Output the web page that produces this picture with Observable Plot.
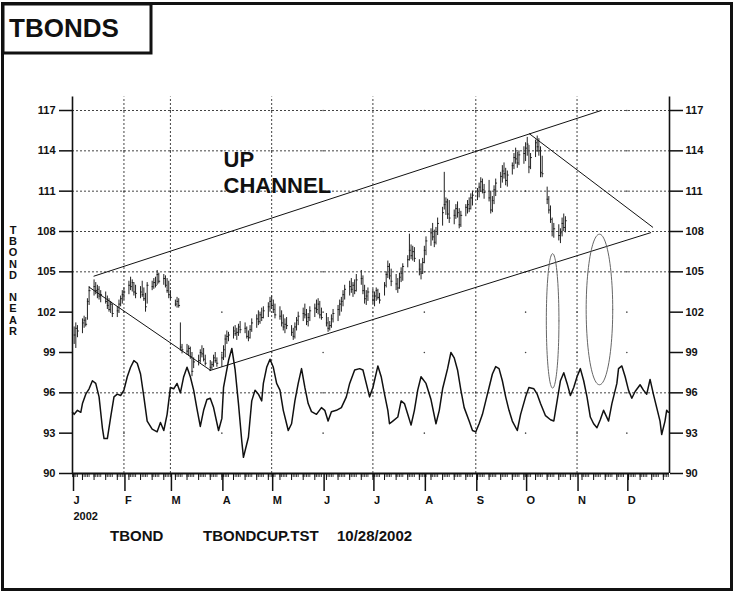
<!DOCTYPE html>
<html>
<head>
<meta charset="utf-8">
<script src="https://cdn.jsdelivr.net/npm/d3@7"></script>
<script src="https://cdn.jsdelivr.net/npm/@observablehq/plot@0.6"></script>
<style>
  html, body { margin: 0; padding: 0; background: #fff; }
  #wrap { position: relative; width: 736px; height: 592px; overflow: hidden; background: #fff;
          font-family: "Liberation Sans", Arial, Helvetica, sans-serif; }
  #wrap > svg { position: absolute; left: 0; top: 0; }
  #overlay { pointer-events: none; }
</style>
</head>
<body>
<div id="wrap"></div>
<script>
// ---------------- DATA ----------------
const monthLetters = ["J","F","M","A","M","J","J","A","S","O","N","D"];
const yTicks = [90, 93, 96, 99, 102, 105, 108, 111, 114, 117];
const gridValues = [96, 105, 108, 111, 114, 117];          // dotted horizontal lines visible
const gridMonths = [1, 2, 4, 6, 8, 10];                      // month index of dotted vertical lines
const barStart = "2002-01-02";                               // first trading day shown

// daily bars, one row per week (Mon..Fri)
const barHigh = [
  100.9,101.2,101.0,
  101.5,101.7,101.6,103.0,103.9,
  104.4,104.2,104.0,103.9,103.6,
  103.5,103.2,103.0,102.8,102.6,
  102.4,102.9,103.2,103.6,103.8,
  104.3,104.6,104.4,104.2,104.0,
  103.9,104.3,103.8,103.4,104.2,
  104.3,104.5,104.6,105.1,104.9,
  104.8,104.7,104.5,104.3,103.6,
  102.9,103.1,103.0,101.2,99.6,
  99.6,99.5,99.4,99.0,98.6,
  98.8,99.2,99.5,99.3,98.8,
  98.4,98.3,98.8,99.0,98.6,
  98.9,99.5,100.3,100.6,100.5,
  100.9,101.0,100.8,101.1,101.3,
  101.2,100.9,100.6,101.0,101.5,
  101.8,102.1,102.0,102.3,102.4,
  102.7,103.1,103.2,102.9,102.6,
  102.4,102.1,101.8,101.5,101.6,
  101.0,100.8,101.2,101.6,102.0,
  102.3,102.6,102.2,101.9,102.4,
  102.6,102.9,103.0,102.8,102.3,
  101.9,101.6,101.3,101.8,102.2,
  102.5,102.9,103.1,103.6,104.0,
  104.3,104.5,104.2,104.4,104.8,
  105.1,104.7,104.0,103.6,103.8,
  103.7,103.5,103.8,103.7,103.4,
  104.2,105.0,105.8,105.6,105.2,
  104.8,104.5,104.9,105.3,105.6,
  106.2,107.8,107.0,106.9,106.8,
  105.9,105.6,106.0,106.9,107.6,
  108.2,108.6,108.1,108.3,109.0,
  109.8,112.4,110.5,110.4,110.3,
  109.6,110.0,110.2,109.7,109.5,
  110.0,110.3,110.5,110.8,111.0,
  111.2,111.6,112.0,111.9,111.5,
  111.8,111.0,110.6,111.4,111.9,
  112.4,112.9,113.1,112.7,112.5,
  113.1,113.8,114.2,113.9,114.0,
  114.3,114.6,115.0,114.4,113.8,
  114.8,115.1,114.9,114.3,113.6,
  111.3,110.6,109.9,109.0,108.6,
  108.5,108.2,109.0,109.3,109.1
];
const barLow = [
  99.6,99.3,100.1,
  100.4,100.8,100.9,101.4,102.5,
  103.2,103.3,103.0,102.9,102.7,
  102.6,102.2,102.0,101.9,101.6,
  101.6,101.9,102.4,102.6,102.9,
  103.3,103.6,103.5,103.2,103.0,
  103.0,103.1,102.8,102.0,102.6,
  103.6,103.7,103.8,104.0,104.1,
  104.0,103.8,103.4,103.0,102.9,
  102.4,102.3,102.3,99.1,98.9,
  98.8,98.7,98.5,97.2,97.8,
  98.0,98.2,98.6,98.3,98.0,
  97.6,97.7,97.9,98.2,97.9,
  97.9,98.4,98.6,99.6,99.8,
  100.0,100.2,99.9,100.2,100.4,
  100.4,100.0,99.8,100.0,100.5,
  100.8,101.0,101.1,101.3,101.5,
  101.6,102.0,102.2,101.9,101.5,
  101.4,100.9,100.6,100.4,100.7,
  100.2,99.9,100.0,100.6,101.0,
  101.3,101.5,101.0,100.9,101.3,
  101.6,101.9,101.8,101.5,101.4,
  100.9,100.5,100.6,100.8,101.2,
  101.3,101.7,102.0,102.4,102.9,
  103.2,103.4,103.1,103.3,103.5,
  104.0,103.3,102.6,102.5,102.8,
  102.6,102.4,102.8,102.9,102.6,
  103.2,103.8,104.5,104.4,103.9,
  103.6,103.4,103.7,104.2,104.3,
  105.3,105.8,105.9,105.8,105.7,
  104.7,104.4,104.8,105.6,106.2,
  106.9,107.3,106.8,107.0,107.7,
  108.4,109.6,109.2,108.9,108.6,
  108.5,108.9,109.0,108.2,108.3,
  109.1,109.3,109.4,109.6,109.9,
  110.3,110.5,110.9,110.8,110.4,
  110.2,109.3,109.4,110.0,110.6,
  111.2,111.6,111.9,111.4,111.3,
  112.2,112.6,113.0,112.7,112.9,
  113.0,113.2,113.6,112.3,112.6,
  113.5,113.9,113.6,112.0,112.0,
  110.0,109.3,108.6,107.6,107.5,
  107.3,107.1,107.6,108.0,107.9
];
const barClose = [
  100.3,100.8,100.6,
  101.2,101.4,101.1,102.8,103.6,
  103.9,103.6,103.7,103.2,103.3,
  102.8,102.5,102.2,102.6,101.9,
  102.1,102.6,103.0,103.3,103.5,
  104.0,103.9,104.2,103.5,103.4,
  103.5,103.3,103.0,102.4,104.0,
  103.9,104.2,104.0,104.8,104.3,
  104.5,104.0,103.6,103.3,103.1,
  102.6,102.8,102.5,99.4,99.2,
  99.1,99.3,98.7,97.6,98.3,
  98.4,99.0,98.9,98.5,98.2,
  97.9,98.1,98.6,98.4,98.2,
  98.6,99.2,100.0,100.2,100.3,
  100.6,100.4,100.5,100.9,100.7,
  100.8,100.2,100.1,100.7,101.2,
  101.5,101.3,101.8,101.6,102.1,
  102.4,102.8,102.5,102.2,101.8,
  101.7,101.2,100.9,101.1,101.0,
  100.5,100.2,100.9,101.4,101.7,
  101.9,101.8,101.3,101.6,102.1,
  102.3,102.2,102.6,101.8,101.6,
  101.2,100.8,101.0,101.5,101.9,
  102.2,102.6,102.8,103.3,103.7,
  103.9,103.7,104.0,103.6,104.4,
  104.5,103.6,103.0,103.2,103.5,
  102.9,103.2,103.6,103.1,102.9,
  104.0,104.8,105.4,104.7,104.3,
  104.1,103.8,104.6,104.9,105.4,
  105.9,106.6,106.2,106.5,106.0,
  105.2,104.9,105.7,106.6,107.3,
  107.9,107.6,107.2,108.0,108.6,
  109.4,110.0,110.2,109.3,109.0,
  109.2,109.7,109.4,108.5,109.2,
  109.8,110.0,109.7,110.5,110.7,
  111.0,111.3,111.7,111.1,110.9,
  110.5,109.6,110.3,111.1,111.6,
  112.1,112.5,112.3,111.8,112.2,
  112.9,113.5,113.4,113.1,113.7,
  113.8,114.2,114.5,112.8,113.5,
  114.6,114.3,114.0,112.4,112.3,
  110.4,109.6,108.9,108.0,108.2,
  107.7,107.9,108.6,108.3,108.8
];

// cycle line (dates as MM-DD of 2002) and its values
const cycleDates = [
  "01-01","01-02","01-04","01-06","01-07","01-09","01-11","01-13","01-15","01-17","01-19","01-20","01-22","01-24","01-26","01-28","01-30",
  "02-01","02-03","02-05","02-07","02-09","02-11","02-13","02-15","02-18","02-21","02-23","02-25","02-27",
  "03-01","03-03","03-05","03-07","03-09","03-11","03-13","03-15","03-17","03-19","03-21","03-23","03-25","03-27","03-30",
  "04-01","04-02","04-05","04-07","04-09","04-11","04-13","04-14","04-17","04-19","04-21","04-23","04-25","04-26","04-28","04-30",
  "05-02","05-04","05-06","05-08","05-10","05-11","05-13","05-15","05-17","05-19","05-21","05-23","05-25","05-28","05-31",
  "06-02","06-04","06-06","06-09","06-12","06-15","06-17","06-20","06-23","06-25","06-27","06-29",
  "07-01","07-04","07-06","07-08","07-10","07-11","07-13","07-16","07-18","07-20","07-22","07-24","07-26","07-28","07-30",
  "08-02","08-05","08-08","08-10","08-12","08-15","08-17","08-19","08-21","08-23","08-25","08-28","08-30",
  "09-01","09-03","09-05","09-07","09-09","09-11","09-13","09-15","09-17","09-19","09-21","09-23","09-26","09-28",
  "10-01","10-03","10-06","10-08","10-10","10-13","10-16","10-18","10-20","10-22","10-24","10-26","10-28","10-30",
  "11-01","11-03","11-05","11-07","11-09","11-11","11-13","11-15","11-17","11-20","11-22","11-25","11-26","11-28","11-30",
  "12-02","12-04","12-06","12-09","12-11","12-13","12-15","12-17","12-19","12-21","12-22","12-24","12-25","12-26"
];
const cycleValues = [
  94.55,94.4,94.7,94.55,95.2,95.9,96.3,96.9,96.7,95.7,93.4,92.6,92.6,94.2,95.7,95.9,95.8,
  96.2,97.2,97.9,98.4,98.2,97.4,95.7,93.9,93.3,93.1,93.8,93.2,94.4,
  96.4,96.3,96.7,96.0,97.2,97.9,97.2,96.2,94.8,93.5,94.7,95.5,95.6,94.9,93.2,
  94.1,96.4,98.4,99.3,97.7,95.2,92.4,91.2,92.7,95.4,96.2,95.9,95.4,96.7,97.9,98.5,
  97.9,96.7,96.2,94.7,93.7,93.2,93.7,95.4,96.7,97.8,96.4,95.2,94.6,94.4,94.9,
  94.7,93.9,94.6,94.7,94.9,95.7,96.7,97.7,97.8,97.7,96.7,95.7,
  96.4,98.0,97.2,95.9,94.7,93.7,93.9,94.2,95.4,95.2,94.4,93.6,94.7,96.2,97.2,
  96.7,95.5,93.7,94.7,96.3,97.8,99.0,98.6,97.7,96.2,94.9,93.9,93.2,
  93.1,93.7,94.4,95.4,96.4,97.4,97.95,97.8,96.9,95.7,94.7,93.9,93.2,94.4,
  95.7,96.4,96.3,95.9,95.2,94.3,94.0,93.9,95.4,96.9,97.5,96.7,95.8,96.4,
  97.2,97.8,96.9,95.7,94.2,93.7,93.4,94.0,94.7,93.9,95.2,96.7,97.8,98.0,97.2,
  96.2,95.6,96.1,96.6,96.2,95.9,97.0,95.9,94.9,93.9,92.9,93.9,94.7,94.55
];

// trend / channel lines: [start date, start value, end date, end value]
const lineNames  = ["upper channel", "lower channel", "first down line", "second down line"];
const lineStart  = ["2002-01-13T17:00", "2002-03-24T14:00", "2002-01-10T22:00", "2002-10-03T02:00"];
const lineStartV = [104.67, 97.65, 103.87, 115.29];
const lineEnd    = ["2002-11-15T12:00", "2002-12-15T14:00", "2002-03-25T10:00", "2002-12-16T19:00"];
const lineEndV   = [117.0, 107.92, 97.65, 108.3];

// cycle ellipses: centre date, centre value, half width (days), half height (points)
const ellipseCenter = ["2002-10-17T07:00", "2002-11-14T12:00"];
const ellipseValue  = [101.35, 102.2];
const ellipseHalfDays = [3.8, 8.0];
const ellipseHalfPts  = [5.0, 5.6];

const annotation = ["UP", "CHANNEL"];
const annotationDate = "2002-04-02";
const annotationValue = [112.78, 110.83];

// ---------------- BUILD ----------------
const parse = s => new Date(s.length > 10 ? s + "Z" : s + "T00:00:00Z");
const DAY = 864e5;

// trading days (Mon-Fri) starting at barStart
const nBars = Math.min(barHigh.length, barLow.length, barClose.length);
const bars = [];
for (let t = parse(barStart).getTime(); bars.length < nBars; t += DAY) {
  const d = new Date(t), wd = d.getUTCDay();
  if (wd === 0 || wd === 6) continue;
  const i = bars.length;
  bars.push({date: d, high: barHigh[i], low: barLow[i], close: barClose[i]});
}
const cycle = cycleDates.map((s, i) => ({date: parse("2002-" + s), value: cycleValues[i]}));
const lines = lineNames.map((n, i) => ({name: n, x1: parse(lineStart[i]), y1: lineStartV[i], x2: parse(lineEnd[i]), y2: lineEndV[i]}));
const ellipsePts = [];
ellipseCenter.forEach((c, k) => {
  const c0 = parse(c).getTime();
  for (let j = 0; j <= 96; j++) {
    const a = (j / 96) * 2 * Math.PI;
    ellipsePts.push({id: k, date: new Date(c0 + ellipseHalfDays[k] * DAY * Math.cos(a)), value: ellipseValue[k] + ellipseHalfPts[k] * Math.sin(a)});
  }
});
const notes = annotation.map((t, i) => ({text: t, date: parse(annotationDate), value: annotationValue[i]}));

const xStart = new Date(Date.UTC(2002, 0, 1));
const xEnd = new Date(Date.UTC(2002, 11, 26, 17));
const yTop = 118; // axis lines extend a little above the top tick
const monthStarts = d3.range(12).map(m => new Date(Date.UTC(2002, m, 1)));
const gridDates = gridMonths.map(m => monthStarts[m]);
const allDays = d3.utcDay.range(xStart, xEnd).filter(d => d.getUTCDay() !== 0 && d.getUTCDay() !== 6);
const mondays = allDays.filter(d => d.getUTCDay() === 1);
const crossDots = [];
monthStarts.slice(1).forEach(d => yTicks.slice(1).forEach(v => crossDots.push({date: d, value: v})));

const FONT = "Liberation Sans, Arial, Helvetica, sans-serif";

const chart = Plot.plot({
  width: 736,
  height: 592,
  marginLeft: 72,
  marginRight: 67,
  marginTop: 110,
  marginBottom: 119,
  x: {type: "utc", domain: [xStart, xEnd]},
  y: {domain: [90, 117]},
  style: {fontFamily: FONT, fontSize: "11px", background: "transparent", color: "#111", overflow: "visible"},
  marks: [
    // grid
    Plot.ruleY(gridValues, {stroke: "#444", strokeWidth: 1, strokeDasharray: "2,2"}),
    Plot.ruleX(gridDates, {y1: 90, y2: yTop, stroke: "#444", strokeWidth: 1, strokeDasharray: "2,2"}),
    Plot.dot(crossDots, {x: "date", y: "value", r: 0.8, fill: "#444", stroke: null}),
    // axis lines
    Plot.ruleX([xStart, xEnd], {y1: 90, y2: yTop, stroke: "#111", strokeWidth: 1.6}),
    Plot.ruleY([90], {stroke: "#111", strokeWidth: 2}),
    // y axes
    Plot.axisY({anchor: "left", ticks: yTicks, tickSize: 13, tickPadding: 4, tickFormat: d => String(d),
      fontSize: 11, fontWeight: "bold", strokeWidth: 1.5, label: null}),
    Plot.axisY({anchor: "right", ticks: yTicks, tickSize: 13, tickPadding: 3, tickFormat: d => String(d),
      fontSize: 11, fontWeight: "bold", strokeWidth: 1.5, label: null}),
    // x axis ticks: days, weeks, months
    Plot.axisX({ticks: allDays, tickSize: 4, tickFormat: () => "", label: null, strokeWidth: 0.8}),
    Plot.axisX({ticks: mondays, tickSize: 7, tickFormat: () => "", label: null, strokeWidth: 1}),
    Plot.axisX({ticks: monthStarts, tickSize: 18, tickPadding: 2, textAnchor: "start", dx: 1,
      tickFormat: d => d.getUTCMonth() === 0 ? monthLetters[0] + "\n2002" : monthLetters[d.getUTCMonth()],
      lineHeight: 1.4, fontSize: 11, fontWeight: "bold", strokeWidth: 1.5, label: null}),
    // price bars
    Plot.ruleX(bars, {x: "date", y1: "low", y2: "high", stroke: "#222", strokeWidth: 1}),
    Plot.ruleY(bars, {y: "close", x1: "date", x2: d => new Date(d.date.getTime() + 1.1 * DAY), stroke: "#222", strokeWidth: 1}),
    // cycle line
    Plot.line(cycle, {x: "date", y: "value", stroke: "#111", strokeWidth: 1.5, curve: "linear"}),
    // channel and trend lines
    Plot.link(lines, {x1: "x1", y1: "y1", x2: "x2", y2: "y2", stroke: "#111", strokeWidth: 1}),
    // ellipses
    Plot.line(ellipsePts, {x: "date", y: "value", z: "id", stroke: "#666", strokeWidth: 1, curve: "linear"}),
    // annotation
    Plot.text(notes, {x: "date", y: "value", text: "text", textAnchor: "start", lineAnchor: "bottom",
      fontSize: 22, fontWeight: "bold", fill: "#111"})
  ]
});
document.getElementById("wrap").appendChild(chart);

// ---------------- FRAME, TITLE, LABELS ----------------
const ns = "http://www.w3.org/2000/svg";
const ov = document.createElementNS(ns, "svg");
ov.setAttribute("id", "overlay");
ov.setAttribute("width", 736);
ov.setAttribute("height", 592);
ov.setAttribute("font-family", FONT);
const yLetters = ["T","B","O","N","D","","N","E","A","R"];
let inner = `
  <rect x="2.5" y="3.5" width="729" height="586" fill="none" stroke="#111" stroke-width="3"/>
  <rect x="3" y="4" width="148" height="49" fill="none" stroke="#111" stroke-width="3"/>
  <text x="9" y="37" font-size="26" font-weight="bold" fill="#111">TBONDS</text>
  <text x="110" y="541" font-size="15" font-weight="bold" fill="#111">TBOND</text>
  <text x="203" y="541" font-size="15" font-weight="bold" fill="#111">TBONDCUP.TST</text>
  <text x="337" y="541" font-size="15" font-weight="bold" fill="#111">10/28/2002</text>`;
yLetters.forEach((c, i) => {
  if (c) inner += `<text x="13" y="${234 + i * 11.2}" font-size="11" font-weight="bold" text-anchor="middle" fill="#111">${c}</text>`;
});
ov.innerHTML = inner;
document.getElementById("wrap").appendChild(ov);
</script>
</body>
</html>
